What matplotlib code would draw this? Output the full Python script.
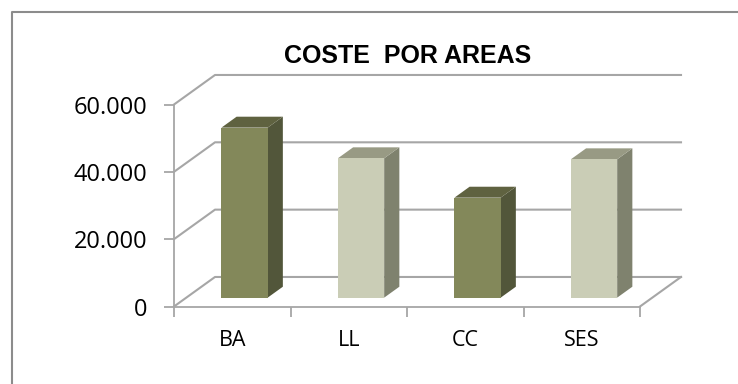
import matplotlib
matplotlib.use("Agg")
import matplotlib.pyplot as plt
from matplotlib.lines import Line2D
from matplotlib.patches import Polygon

categories = ["BA", "LL", "CC", "SES"]
values = [50500, 41400, 29700, 41100]
yticks = [0, 20000, 40000, 60000]
ylabels = ["0", "20.000", "40.000", "60.000"]

front_colors = ["#83885a", "#cacdb6", "#83885a", "#cacdb6"]
side_colors = ["#52563a", "#7f826e", "#52563a", "#7f826e"]
top_colors = ["#5f6240", "#989a84", "#5f6240", "#989a84"]

W, H = 738, 384
GREY = "#a6a6a6"
DX = 0.352      # wall depth in category units
DY = 8770       # wall depth in value units
BAR_W = 0.397
BAR_D0 = 0.30   # bar start, share of the depth
BAR_D1 = 0.67   # bar end, share of the depth


def shift(x, y, d):
    return x + d * DX, y + d * DY


fig = plt.figure(figsize=(W / 100, H / 100), dpi=100)
# frame of the picture: only top and left are drawn in the reference crop
fig.add_artist(Line2D([11.5 / W, 11.5 / W, 738 / W], [0, 1 - 12 / H, 1 - 12 / H],
                      color="#8c8c8c", lw=1.5))

ax = fig.add_axes([174 / W, 1 - 306.5 / H, 466 / W, 202 / H])
ax.set_xlim(0, 4)
ax.set_ylim(0, 60000)
ax.patch.set_visible(False)
for side in ["top", "right"]:
    ax.spines[side].set_visible(False)
for side in ["left", "bottom"]:
    ax.spines[side].set_color(GREY)
    ax.spines[side].set_linewidth(1.3)

# gridlines on the back wall and the slanted lines on the side wall
for v in yticks:
    x0, y0 = shift(0, v, 1)
    x1, y1 = shift(4, v, 1)
    ax.plot([0, x0, x1], [v, y0, y1], color=GREY, lw=1.5, clip_on=False, zorder=1)
ax.plot(*zip(shift(4, 0, 0), shift(4, 0, 1)), color=GREY, lw=1.5, clip_on=False, zorder=1)

# bars
for i, v in enumerate(values):
    left = i + 0.5 - BAR_W / 2
    right = i + 0.5 + BAR_W / 2
    fl = shift(left, 0, BAR_D0)
    fr = shift(right, 0, BAR_D0)
    tl = shift(left, v, BAR_D0)
    tr = shift(right, v, BAR_D0)
    dx = (BAR_D1 - BAR_D0) * DX
    dy = (BAR_D1 - BAR_D0) * DY
    ax.add_patch(Polygon([fr, tr, (tr[0] + dx, tr[1] + dy), (fr[0] + dx, fr[1] + dy)],
                         facecolor=side_colors[i], edgecolor="none", clip_on=False, zorder=3))
    ax.add_patch(Polygon([tl, tr, (tr[0] + dx, tr[1] + dy), (tl[0] + dx, tl[1] + dy)],
                         facecolor=top_colors[i], edgecolor="none", clip_on=False, zorder=3))
    ax.add_patch(Polygon([fl, fr, tr, tl], facecolor=front_colors[i],
                         edgecolor="none", clip_on=False, zorder=4))

ax.set_yticks(yticks)
ax.set_yticklabels(ylabels, fontsize=17, fontfamily="Open Sans", color="black")
ax.set_xticks(range(5))
ax.set_xticklabels([])
ax.set_xticks([i + 0.5 for i in range(4)], labels=categories, minor=True,
              fontsize=15.5, fontfamily="Open Sans", color="black")
ax.tick_params(axis="y", length=7, width=1.3, color=GREY, pad=12)
ax.tick_params(axis="x", which="major", length=7, width=1.3, color=GREY)
ax.tick_params(axis="x", which="minor", length=0, pad=17)

fig.text(408 / W, 1 - 56 / H, "COSTE  POR AREAS", fontsize=18, fontweight="bold",
         fontfamily="Liberation Sans", ha="center", va="center", color="black")

fig.savefig("out.png", dpi=100)
